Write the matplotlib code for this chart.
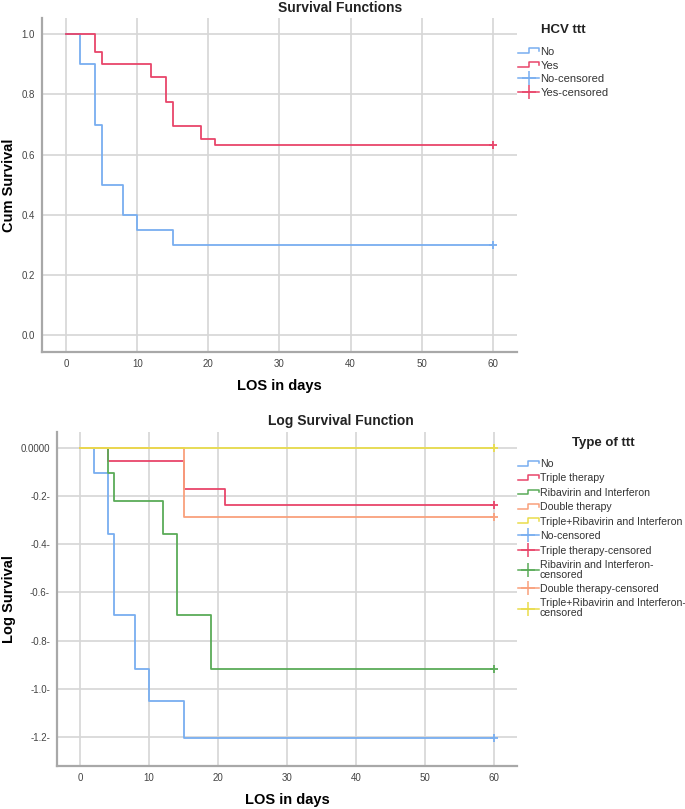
import numpy as np
import matplotlib
matplotlib.use("Agg")
import matplotlib.pyplot as plt
from matplotlib.lines import Line2D
from matplotlib.legend_handler import HandlerBase

plt.rcParams["font.family"] = ["Liberation Sans", "DejaVu Sans"]

# top chart: cumulative survival by HCV ttt
hcv_groups = ["No", "Yes"]
hcv_times = {
    "No": [0, 2, 4, 5, 8, 10, 15, 60],
    "Yes": [0, 4, 5, 12, 14, 15, 19, 21, 60],
}
hcv_surv = {
    "No": [1.0, 0.90, 0.70, 0.50, 0.40, 0.35, 0.30, 0.30],
    "Yes": [1.0, 0.94, 0.90, 0.857, 0.776, 0.694, 0.653, 0.633, 0.633],
}
hcv_colors = {"No": "#78aef0", "Yes": "#e8456a"}

# bottom chart: log survival by type of ttt
ttt_groups = ["No", "Triple therapy", "Ribavirin and Interferon",
              "Double therapy", "Triple+Ribavirin and Interferon"]
ttt_times = {
    "No": [0, 2, 4, 5, 8, 10, 15, 60],
    "Triple therapy": [0, 4, 15, 21, 60],
    "Ribavirin and Interferon": [0, 4, 5, 12, 14, 19, 60],
    "Double therapy": [0, 15, 60],
    "Triple+Ribavirin and Interferon": [0, 60],
}
ttt_logsurv = {
    "No": [0.0, -0.105, -0.357, -0.693, -0.916, -1.050, -1.204, -1.204],
    "Triple therapy": [0.0, -0.054, -0.171, -0.236, -0.236],
    "Ribavirin and Interferon": [0.0, -0.105, -0.223, -0.357, -0.693, -0.916, -0.916],
    "Double therapy": [0.0, -0.288, -0.288],
    "Triple+Ribavirin and Interferon": [0.0, 0.0],
}
ttt_colors = {
    "No": "#78aef0",
    "Triple therapy": "#e8456a",
    "Ribavirin and Interferon": "#5aab58",
    "Double therapy": "#f9a07c",
    "Triple+Ribavirin and Interferon": "#e9dc4c",
}

x_ticks = [0, 10, 20, 30, 40, 50, 60]
top_yticks = [0.0, 0.2, 0.4, 0.6, 0.8, 1.0]
top_ylabels = ["0.0", "0.2", "0.4", "0.6", "0.8", "1.0"]
bot_yticks = [0.0, -0.2, -0.4, -0.6, -0.8, -1.0, -1.2]
bot_ylabels = ["0.0000", "-0.2-", "-0.4-", "-0.6-", "-0.8-", "-1.0-", "-1.2-"]


class StepHandler(HandlerBase):
    # little step icon like in SPSS legends
    def create_artists(self, legend, orig_handle, xdescent, ydescent,
                       width, height, fontsize, trans):
        x0 = -xdescent
        y0 = -ydescent
        xs = [x0, x0 + width * 0.5, x0 + width * 0.5, x0 + width, x0 + width]
        ys = [y0 + height * 0.2, y0 + height * 0.2, y0 + height * 0.85,
              y0 + height * 0.85, y0 + height * 0.5]
        ln = Line2D(xs, ys, color=orig_handle.get_color(), lw=1.1, transform=trans)
        return [ln]


def style_axes(ax):
    for s in ["top", "right"]:
        ax.spines[s].set_visible(False)
    for s in ["left", "bottom"]:
        ax.spines[s].set_color("#a8a8a8")
        ax.spines[s].set_linewidth(1.6)
    ax.grid(True, color="#d6d6d6", lw=1.2)
    ax.set_axisbelow(True)
    ax.tick_params(length=0, labelsize=7, labelcolor="#444444", pad=5)
    ax.set_xticks(x_ticks)


fig = plt.figure(figsize=(6.85, 8.09), dpi=100)

# ---------- top ----------
ax1 = fig.add_axes([0.0613, 0.5649, 0.6934, 0.4129])
style_axes(ax1)
handles1 = []
cens1 = []
for g in hcv_groups:
    ln, = ax1.step(hcv_times[g], hcv_surv[g], where="post", color=hcv_colors[g], lw=1.3)
    ax1.plot(hcv_times[g][-1], hcv_surv[g][-1], marker="+", ms=6, mew=1.3,
             color=hcv_colors[g], ls="none")
    handles1.append(ln)
    cens1.append(Line2D([], [], color=hcv_colors[g], lw=1.1, marker="+", ms=10, mew=1.1))
ax1.set_xlim(-3.4, 63.4)
ax1.set_ylim(-0.055, 1.054)
ax1.set_yticks(top_yticks)
ax1.set_yticklabels(top_ylabels)
ax1.set_xlabel("LOS in days", fontsize=10.5, fontweight="bold", labelpad=7)
ax1.set_ylabel("Cum Survival", fontsize=10.5, fontweight="bold")
ax1.yaxis.set_label_coords(-0.055, 0.5)
fig.text(0.497, 1 - 8 / 809, "Survival Functions", ha="center", va="center",
         fontsize=10, fontweight="bold", color="#222222")

fig.text(563 / 685, 1 - 30 / 809, "HCV ttt", ha="center", va="center",
         fontsize=9.5, fontweight="bold", color="#222222")
leg1 = fig.legend(handles1 + cens1, hcv_groups + [g + "-censored" for g in hcv_groups],
                  handler_map={h: StepHandler() for h in handles1},
                  loc="upper left", bbox_to_anchor=(518 / 685, 1 - 47 / 809),
                  frameon=False, fontsize=8, labelspacing=0.33,
                  handlelength=1.9, handletextpad=0.1, borderpad=0, borderaxespad=0)
for t in leg1.get_texts():
    t.set_color("#333333")

# ---------- bottom ----------
ax2 = fig.add_axes([0.0832, 0.0532, 0.6715, 0.4128])
style_axes(ax2)
handles2 = []
cens2 = []
for g in ttt_groups:
    ln, = ax2.step(ttt_times[g], ttt_logsurv[g], where="post", color=ttt_colors[g], lw=1.3)
    ax2.plot(ttt_times[g][-1], ttt_logsurv[g][-1], marker="+", ms=6, mew=1.3,
             color=ttt_colors[g], ls="none")
    handles2.append(ln)
    cens2.append(Line2D([], [], color=ttt_colors[g], lw=1.1, marker="+", ms=10, mew=1.1))
ax2.set_xlim(-3.33, 63.3)
ax2.set_ylim(-1.319, 0.065)
ax2.set_yticks(bot_yticks)
ax2.set_yticklabels(bot_ylabels)
ax2.set_xlabel("LOS in days", fontsize=10.5, fontweight="bold", labelpad=7)
ax2.set_ylabel("Log Survival", fontsize=10.5, fontweight="bold")
ax2.yaxis.set_label_coords(-0.09, 0.5)
fig.text(0.497, 1 - 421 / 809, "Log Survival Function", ha="center", va="center",
         fontsize=10, fontweight="bold", color="#222222")

fig.text(603 / 685, 1 - 443 / 809, "Type of ttt", ha="center", va="center",
         fontsize=9.5, fontweight="bold", color="#222222")
cens_labels = ["No-censored", "Triple therapy-censored", "Ribavirin and Interferon-\ncensored",
               "Double therapy-censored", "Triple+Ribavirin and Interferon-\ncensored"]
leg2 = fig.legend(handles2 + cens2, ttt_groups + cens_labels,
                  handler_map={h: StepHandler() for h in handles2},
                  loc="upper left", bbox_to_anchor=(518 / 685, 1 - 459 / 809),
                  frameon=False, fontsize=7.6, labelspacing=0.42,
                  handlelength=1.95, handletextpad=0.1, borderpad=0, borderaxespad=0)
for t in leg2.get_texts():
    t.set_color("#333333")
    t.set_linespacing(0.95)

fig.savefig("out.png", dpi=100)
